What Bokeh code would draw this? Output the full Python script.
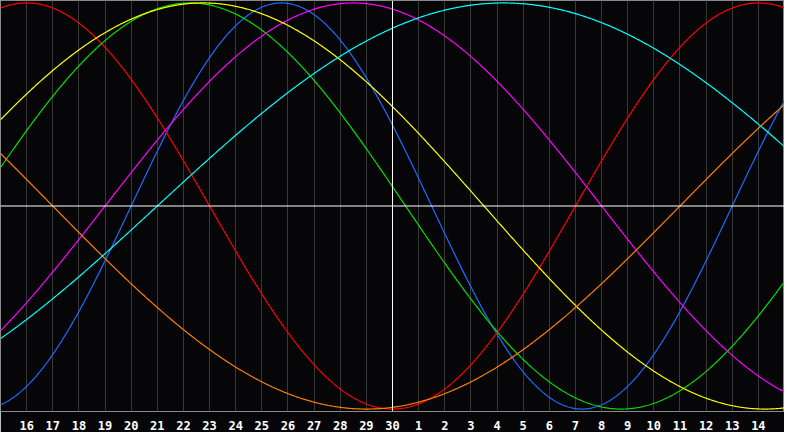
import numpy as np
from bokeh.plotting import figure
from bokeh.models import Range1d, FixedTicker, Span
from bokeh.embed import file_html
from bokeh.resources import INLINE

# Biorhythm cycles: length (days) and day-in-cycle at the centre date (day 30)
cycle_names = ["physical", "emotional", "intellectual", "intuitive",
               "aesthetic", "awareness", "spiritual"]
cycle_lengths = [23, 28, 33, 38, 43, 48, 53]
cycle_day_at_center = [10, 21, 16, 11, 18, 37, 9]
cycle_colors = ["#1a6cff", "#ff0000", "#00e000", "#ff00ff",
                "#ffff00", "#ff8000", "#00ffff"]

# Day offsets (relative to centre) and their calendar labels
tick_offsets = list(range(-14, 15))
tick_labels = ["16", "17", "18", "19", "20", "21", "22", "23", "24", "25",
               "26", "27", "28", "29", "30", "1", "2", "3", "4", "5", "6",
               "7", "8", "9", "10", "11", "12", "13", "14"]

p = figure(width=784, height=432, output_backend="svg", toolbar_location=None,
           x_range=Range1d(-15, 15), y_range=Range1d(-1.012, 1.012),
           min_border_left=0, min_border_right=0, min_border_top=0,
           min_border_bottom=20)
p.background_fill_color = "#060608"
p.border_fill_color = "#060608"
p.outline_line_color = "#8a8a8a"
p.outline_line_width = 1

p.yaxis.visible = False
p.ygrid.visible = False

ax = p.xaxis[0]
ax.ticker = FixedTicker(ticks=tick_offsets)
ax.major_label_overrides = {t: l for t, l in zip(tick_offsets, tick_labels)}
ax.axis_line_color = None
ax.major_tick_line_color = None
ax.minor_tick_line_color = None
ax.major_label_text_color = "#ffffff"
ax.major_label_text_font = "DejaVu Sans Mono"
ax.major_label_text_font_style = "bold"
ax.major_label_text_font_size = "12px"
ax.major_label_standoff = 3

p.xgrid.ticker = FixedTicker(ticks=tick_offsets)
p.xgrid.grid_line_color = "#383838"
p.xgrid.grid_line_width = 1

p.add_layout(Span(location=0, dimension="height", line_color="#ffffff", line_width=1))
p.add_layout(Span(location=0, dimension="width", line_color="#ffffff", line_width=1))

d = np.linspace(-15, 15, 901)
for L, ph, c in zip(cycle_lengths, cycle_day_at_center, cycle_colors):
    y = np.sin(2 * np.pi * (ph + d) / L)
    p.line(d, y, line_color=c, line_width=1.2)

open("out.html", "w").write(file_html(p, INLINE))
